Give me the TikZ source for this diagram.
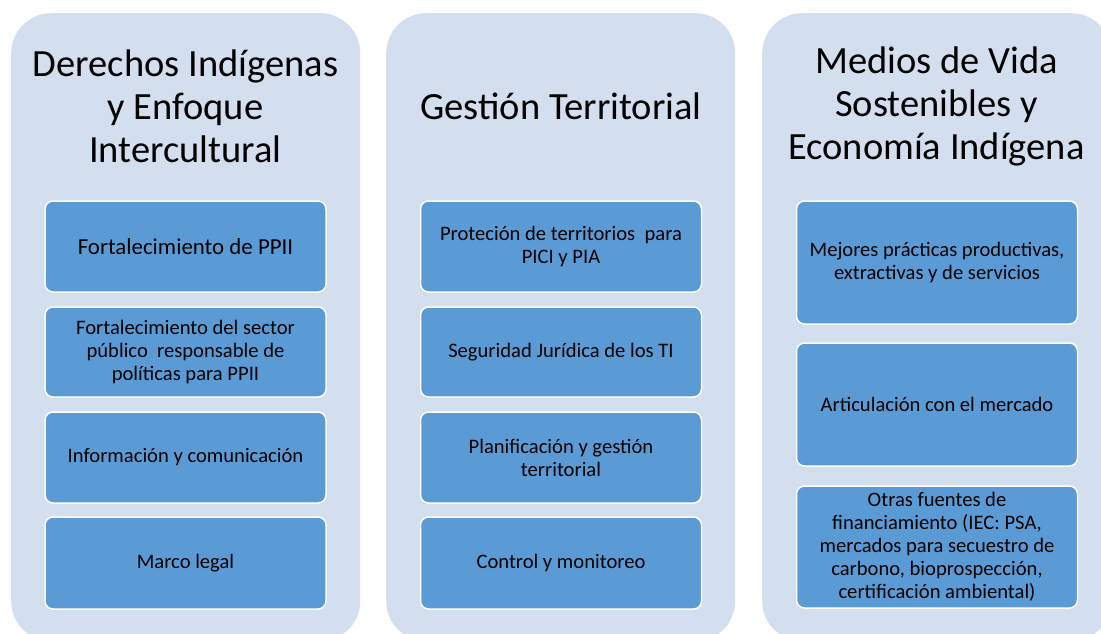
\documentclass[tikz,border=0pt]{standalone}
\usepackage{fontspec}
\setmainfont{Carlito}
\definecolor{panelfill}{RGB}{211,222,239}
\definecolor{boxfill}{RGB}{91,155,213}
\tikzset{
  panel/.style={fill=panelfill, draw=none, rounded corners=40pt, anchor=north west, inner sep=0pt},
  title/.style={align=center, font=\fontsize{38.5}{43}\selectfont, inner sep=0pt, text=black},
  item/.style={fill=boxfill, draw=white, line width=1.5pt, rounded corners=8pt, align=center,
    font=\fontsize{20.6}{23}\selectfont, inner sep=0pt, minimum width=281pt, text=black},
  bigitem/.style={item, font=\fontsize{22.9}{26}\selectfont},
}
\begin{document}
\begin{tikzpicture}[x=1pt,y=-1pt]
\useasboundingbox (0,0) rectangle (1101,633);
\clip (0,0) rectangle (1101,633);
% panels
\node[panel, minimum width=349pt, minimum height=628pt] (p1) at (11,13) {};
\node[panel, minimum width=349pt, minimum height=628pt] (p2) at (386,13) {};
\node[panel, minimum width=349pt, minimum height=628pt] (p3) at (762,13) {};
% titles
\node[title] (t1) at (185.5,106) {Derechos Indígenas\\y Enfoque\\Intercultural};
\node[title] (t2) at (561,106) {Gestión Territorial};
\node[title] (t3) at (936.5,106) {Medios de Vida\\Sostenibles y\\Economía Indígena};
% left column
\node[bigitem, minimum height=91pt] (a1) at (185.5,246.5) {Fortalecimiento de PPII};
\node[item, minimum height=90pt] (a2) at (185.5,352) {Fortalecimiento del sector\\público \ responsable de\\políticas para PPII};
\node[item, minimum height=91pt] (a3) at (185.5,457.5) {Información y comunicación};
\node[item, minimum height=92pt] (a4) at (185.5,563) {Marco legal};
% middle column
\node[item, minimum height=91pt] (b1) at (561,246.5) {Proteción de territorios \ para\\PICI y PIA};
\node[item, minimum height=90pt] (b2) at (561,352) {Seguridad Jurídica de los TI};
\node[item, minimum height=91pt] (b3) at (561,457.5) {Planificación y gestión\\territorial};
\node[item, minimum height=92pt] (b4) at (561,563) {Control y monitoreo};
% right column
\node[item, minimum height=123pt] (c1) at (937,262.5) {Mejores prácticas productivas,\\extractivas y de servicios};
\node[item, minimum height=123pt] (c2) at (937,404.5) {Articulación con el mercado};
\node[item, minimum height=122pt] (c3) at (937,547) {Otras fuentes de\\financiamiento (IEC: PSA,\\mercados para secuestro de\\carbono, bioprospección,\\certificación ambiental)};
\end{tikzpicture}
\end{document}
